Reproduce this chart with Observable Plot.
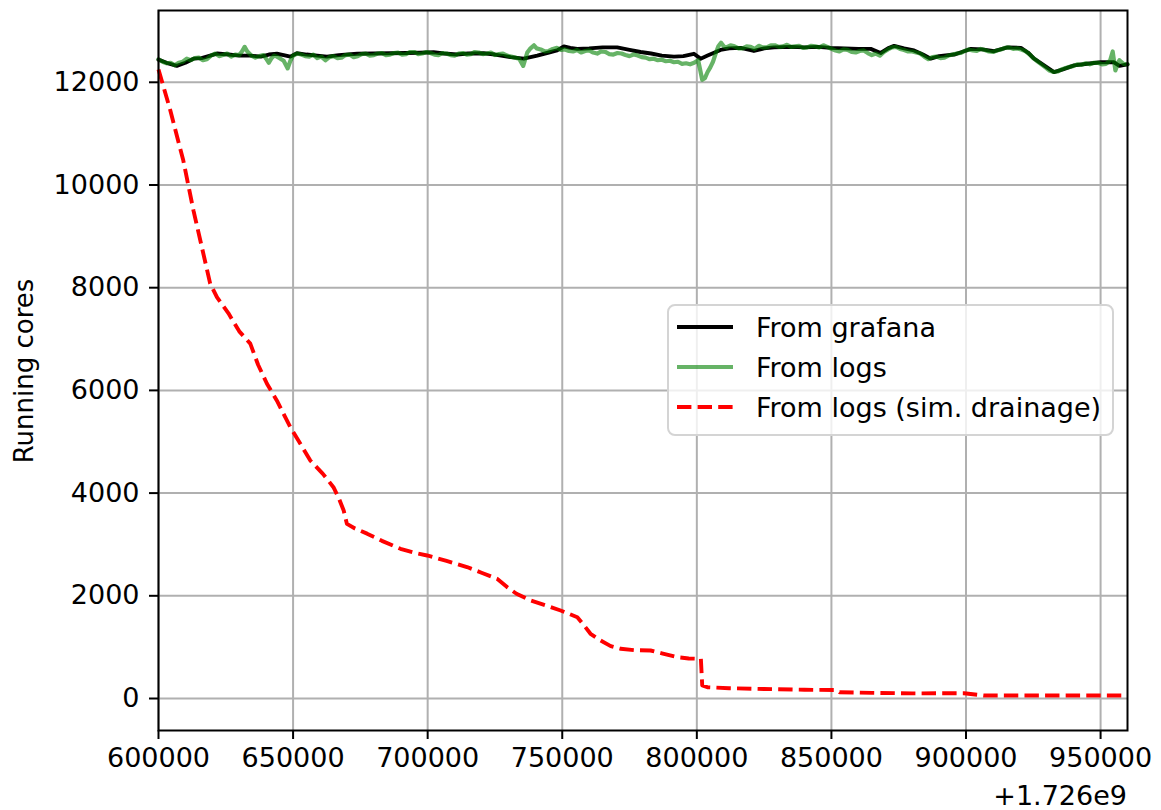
<!DOCTYPE html>
<html>
<head>
<meta charset="utf-8">
<script src="https://cdn.jsdelivr.net/npm/d3@7"></script>
<script src="https://cdn.jsdelivr.net/npm/@observablehq/plot@0.6"></script>
<style>
  html, body { margin: 0; padding: 0; background: #ffffff; }
  #wrap { position: relative; width: 1161px; height: 810px; font-family: "DejaVu Sans", sans-serif; }
  #overlay { position: absolute; left: 0; top: 0; pointer-events: none; }
</style>
</head>
<body>
<div id="wrap"></div>
<script>
// Timestamps are offsets from 1.726e9 seconds
const OFFSET_LABEL = "+1.726e9";
const xTicks = [600000, 650000, 700000, 750000, 800000, 850000, 900000, 950000];
const yTicks = [0, 2000, 4000, 6000, 8000, 10000, 12000];
const seriesNames = ["From grafana", "From logs", "From logs (sim. drainage)"];

// "From grafana"
const grafanaTime = [600000,603000,606800,610000,613000,616000,619200,621700,626000,630000,634000,638000,641000,644000,646500,649000,651400,655000,659000,662600,667000,673800,680000,686000,692000,697000,702200,706000,710900,715000,720800,725000,730800,735700,740700,745000,748100,750600,753000,755600,760000,765000,770400,775000,779100,783000,787000,791500,795000,798900,801400,804000,808800,812000,816300,821200,825000,828700,835000,840000,845000,849700,855000,860000,864600,868300,871000,873300,877000,880700,884000,886900,890000,895600,899000,901800,906000,910500,915400,920400,923000,925300,929000,932700,936000,940200,945000,950100,955000,957000,960000];
const grafanaCores = [12440,12380,12320,12380,12460,12470,12520,12560,12540,12520,12520,12500,12540,12555,12530,12500,12565,12540,12520,12500,12530,12555,12560,12565,12570,12575,12585,12560,12540,12560,12565,12540,12490,12460,12520,12580,12620,12700,12670,12650,12660,12680,12680,12630,12590,12560,12520,12500,12510,12555,12460,12520,12630,12660,12670,12610,12660,12680,12690,12680,12690,12670,12660,12650,12650,12570,12660,12710,12660,12620,12540,12460,12510,12540,12600,12650,12640,12605,12680,12670,12580,12460,12330,12200,12250,12330,12360,12390,12390,12320,12350];

// "From logs"
const logsTime = [600000,601500,603000,604500,606000,607500,609000,610500,612000,613500,615000,616500,618000,619500,621000,622500,624000,625500,627000,628500,630000,631000,632000,633000,634500,636000,637500,639000,640000,641000,642000,643000,644000,645000,646500,648000,649000,650000,651500,653000,654500,656000,657500,659000,660500,662000,663500,665000,666500,668000,669500,671000,672500,674000,675500,677000,678500,680000,681500,683000,684500,686000,687500,689000,690500,692000,693500,695000,696500,698000,699500,701000,702500,704000,705500,707000,708500,710000,711500,713000,714500,716000,717500,719000,720500,722000,723500,725000,726500,728000,729500,731000,732500,734000,735500,737000,738000,739500,740500,742000,743500,745000,746500,748000,749500,751000,752500,754000,755500,757000,758500,760000,761500,763000,764500,766000,767500,769000,770500,772000,773500,775000,776500,778000,779500,781000,782500,784000,785500,787000,788500,790000,791500,793000,794500,796000,797500,799000,800500,802000,803000,804000,805000,806000,807000,808000,809000,810000,811000,812500,814000,815500,817000,818500,820000,821500,823000,824500,826000,827500,829000,830500,832000,833500,835000,836500,838000,839500,841000,842500,844000,845500,847000,848500,850000,851500,853000,854500,856000,857500,859000,860500,862000,863500,865000,866500,868000,869500,871000,872500,874000,875500,877000,878500,880000,881500,883000,884500,886000,887500,889000,890500,892000,893500,895000,896500,898000,899500,901000,902500,904000,905500,907000,908500,910000,911500,913000,914500,916000,917500,919000,920500,922000,923500,925000,926500,928000,929500,931000,932500,934000,935500,937000,938500,940000,941500,943000,944500,946000,947500,949000,950500,952000,953500,954500,955500,956500,957000,958500,960000];
const logsCores = [12450,12400,12370,12380,12330,12380,12400,12460,12430,12470,12480,12430,12450,12520,12560,12510,12530,12560,12500,12540,12530,12600,12690,12600,12520,12480,12510,12530,12460,12380,12470,12520,12500,12470,12420,12270,12420,12520,12560,12540,12510,12500,12540,12470,12500,12430,12490,12510,12470,12480,12530,12540,12490,12510,12550,12560,12520,12530,12560,12570,12530,12540,12570,12580,12540,12550,12590,12590,12550,12560,12590,12570,12540,12530,12570,12560,12530,12520,12560,12570,12540,12550,12590,12580,12550,12560,12580,12530,12550,12560,12520,12500,12480,12460,12320,12580,12650,12720,12660,12640,12600,12610,12650,12670,12630,12640,12610,12600,12630,12580,12610,12620,12580,12560,12600,12590,12550,12540,12570,12560,12530,12510,12540,12520,12490,12480,12450,12460,12430,12440,12410,12420,12390,12400,12360,12370,12350,12380,12430,12050,12080,12200,12290,12400,12560,12700,12770,12700,12680,12720,12700,12660,12660,12700,12690,12650,12710,12680,12680,12720,12720,12690,12700,12730,12690,12700,12710,12670,12680,12710,12700,12680,12720,12690,12650,12620,12600,12640,12630,12590,12580,12610,12620,12570,12530,12560,12520,12590,12640,12680,12690,12650,12630,12600,12600,12580,12560,12500,12450,12490,12500,12470,12480,12520,12540,12560,12570,12610,12640,12620,12610,12650,12630,12600,12590,12620,12640,12670,12680,12650,12660,12640,12610,12550,12470,12410,12350,12290,12230,12200,12210,12250,12280,12300,12320,12350,12340,12370,12350,12380,12380,12350,12360,12420,12600,12230,12380,12430,12360,12350];

// "From logs (sim. drainage)"
const drainTime = [600000,604400,609200,613000,616500,619200,621700,626000,630000,634100,637000,640300,644000,649000,652700,656400,661000,665000,667000,668800,670000,673000,677500,683000,689900,695000,699800,707000,714600,720000,725800,729500,733000,738200,744000,749400,755600,758000,760500,764200,768000,771700,777000,782800,787000,792700,797000,801500,802000,803900,812000,825000,840000,852000,853000,865000,880000,899300,906700,930000,960000];
const drainCores = [12250,11450,10480,9500,8700,8080,7815,7500,7150,6910,6500,6130,5800,5280,4960,4635,4380,4115,3900,3660,3400,3310,3210,3070,2915,2840,2785,2680,2560,2450,2330,2170,2040,1910,1810,1714,1583,1430,1260,1130,1020,968,940,935,880,804,780,773,253,220,200,185,170,165,123,110,100,103,58,60,60];

const grafana = grafanaTime.map((t, i) => ({t, v: grafanaCores[i]}));
const logs = logsTime.map((t, i) => ({t, v: logsCores[i]}));
const drain = drainTime.map((t, i) => ({t, v: drainCores[i]}));

const FONT = "DejaVu Sans";
const FS = 27;
const fmt = d => String(d);

const chart = Plot.plot({
  width: 1161,
  height: 810,
  marginLeft: 158,
  marginRight: 34,
  marginTop: 10,
  marginBottom: 80,
  style: {fontFamily: FONT, fontSize: FS + "px", color: "black", background: "white", overflow: "visible"},
  x: {domain: [600000, 960000]},
  y: {domain: [-623, 13398]},
  marks: [
    Plot.gridX(xTicks, {stroke: "#b0b0b0", strokeOpacity: 1, strokeWidth: 2}),
    Plot.gridY(yTicks, {stroke: "#b0b0b0", strokeOpacity: 1, strokeWidth: 2}),
    Plot.line(grafana, {x: "t", y: "v", stroke: "black", strokeWidth: 3.9}),
    Plot.line(logs, {x: "t", y: "v", stroke: "green", strokeOpacity: 0.6, strokeWidth: 4.2}),
    Plot.line(drain, {x: "t", y: "v", stroke: "red", strokeWidth: 3.9, strokeDasharray: "14.4,6.2", strokeLinecap: "butt"}),
    Plot.frame({stroke: "black", strokeWidth: 2}),
    Plot.axisX(xTicks, {tickSize: 9, tickPadding: 8, tickFormat: fmt, label: null, strokeWidth: 2, fontSize: FS}),
    Plot.axisY(yTicks, {tickSize: 9, tickPadding: 10, tickFormat: fmt, label: null, strokeWidth: 2, fontSize: FS})
  ]
});

const wrap = document.getElementById("wrap");
wrap.appendChild(chart);

// Overlay: y label, offset text, legend
const ns = "http://www.w3.org/2000/svg";
const ov = document.createElementNS(ns, "svg");
ov.setAttribute("id", "overlay");
ov.setAttribute("width", 1161);
ov.setAttribute("height", 810);
ov.setAttribute("font-family", FONT);
ov.setAttribute("font-size", FS);
function el(tag, attrs, text) {
  const e = document.createElementNS(ns, tag);
  for (const k in attrs) e.setAttribute(k, attrs[k]);
  if (text != null) e.textContent = text;
  ov.appendChild(e);
  return e;
}
el("text", {x: 0, y: 0, transform: "translate(33,371) rotate(-90)", "text-anchor": "middle", fill: "black", "font-size": 26}, "Running cores");
el("text", {x: 1127, y: 805, "text-anchor": "end", fill: "black"}, OFFSET_LABEL);

el("rect", {x: 668, y: 305, width: 445, height: 130, rx: 7, ry: 7, fill: "white", "fill-opacity": 0.8, stroke: "#d4d4d4", "stroke-width": 2});
const legendStyles = [
  {stroke: "black", opacity: 1, dash: null},
  {stroke: "green", opacity: 0.6, dash: null},
  {stroke: "red", opacity: 1, dash: "14.4,6.2"}
];
const rowY = [327, 367, 407];
seriesNames.forEach((name, i) => {
  const s = legendStyles[i];
  const a = {x1: 677, x2: 733, y1: rowY[i], y2: rowY[i], stroke: s.stroke, "stroke-opacity": s.opacity, "stroke-width": 3.9};
  if (s.dash) { a["stroke-dasharray"] = s.dash; a["stroke-linecap"] = "butt"; }
  el("line", a);
  el("text", {x: 756, y: rowY[i] + 9.5, fill: "black"}, name);
});
wrap.appendChild(ov);
</script>
</body>
</html>
